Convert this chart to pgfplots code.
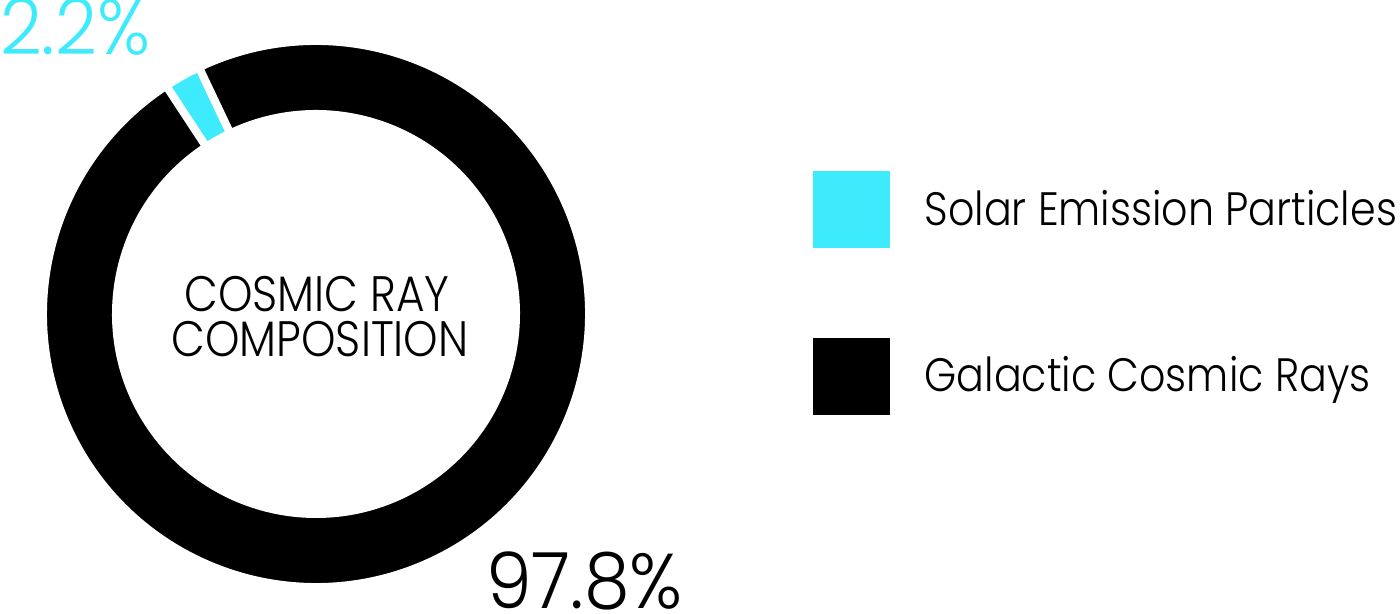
\documentclass[border=0pt]{standalone}
\usepackage{pgfplots}
\pgfplotsset{compat=1.18}
\usepackage{pgfplotstable}
\usepackage{fontspec}
\setmainfont{Poppins}[UprightFont=* Light, FakeStretch=0.88]
\newfontfamily\numfont{Poppins}[UprightFont=* Light, FakeStretch=0.94]
\definecolor{solar}{HTML}{3DEBFC}

% shares in percent, drawn clockwise from the start angle
\pgfplotstableread{
share label
2.2   Solar
97.8  Galactic
}\shares
\pgfplotstablegetelem{0}{share}\of\shares \let\shareA\pgfplotsretval
\pgfplotstablegetelem{1}{share}\of\shares \let\shareB\pgfplotsretval
\pgfmathsetmacro\angS{123.3}
\pgfmathsetmacro\angA{\angS-3.6*\shareA}
\pgfmathsetmacro\angB{\angA-3.6*\shareB}

\begin{document}
\begin{tikzpicture}
\useasboundingbox (0,0) rectangle (1400bp,614bp);
\begin{axis}[
    at={(0,0)}, anchor=south west,
    scale only axis,
    width=1400bp, height=614bp,
    xmin=0, xmax=1400, ymin=0, ymax=614,
    hide axis, clip=false,
    legend style={at={(axis cs:813,443)}, anchor=north west,
      draw=none, fill=none, inner sep=0pt, row sep=90bp,
      font=\fontsize{47}{47}\selectfont,
      nodes={inner sep=0pt, text height=32bp, text depth=0pt}},
    legend cell align=left,
    /tikz/every odd column/.append style={column sep=35bp},
    legend image code/.code={\fill[#1] (0bp,-38bp) rectangle (76bp,38bp);},
    ]
\fill[solar, draw=white, line width=8bp] (axis cs:316,300) ++(\angS:273bp)
  arc[start angle=\angS, end angle=\angA, radius=273bp] -- ++(\angA:-73bp)
  arc[start angle=\angA, end angle=\angS, radius=200bp] -- cycle;
\fill[black, draw=white, line width=8bp] (axis cs:316,300) ++(\angA:273bp)
  arc[start angle=\angA, end angle=\angB, radius=273bp] -- ++(\angB:-73bp)
  arc[start angle=\angB, end angle=\angA, radius=200bp] -- cycle;
\addlegendimage{solar}
\addlegendentry{Solar Emission Particles}
\addlegendimage{black}
\addlegendentry{Galactic Cosmic Rays}
\node[anchor=base, inner sep=0pt, font=\fontsize{50}{50}\selectfont]
  at (axis cs:317,302) {COSMIC RAY};
\node[anchor=base, inner sep=0pt, font=\fontsize{50}{50}\selectfont]
  at (axis cs:320,257) {COMPOSITION};
\node[anchor=base west, inner sep=0pt, text=solar, font=\numfont\fontsize{78}{78}\selectfont]
  at (axis cs:0,559) {2.2\%};
\node[anchor=base west, inner sep=0pt, font=\numfont\fontsize{78}{78}\selectfont]
  at (axis cs:486,6) {97.8\%};
\end{axis}
\end{tikzpicture}
\end{document}
